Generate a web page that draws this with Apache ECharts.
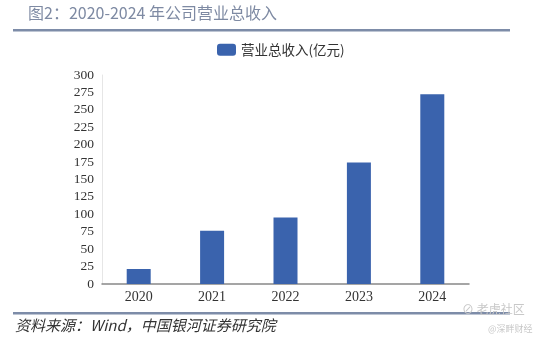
<!DOCTYPE html>
<html><head><meta charset="utf-8">
<script src="https://cdn.jsdelivr.net/npm/echarts@6/dist/echarts.min.js"></script>
<style>html,body{margin:0;padding:0;background:#fff}#c{width:545px;height:343px}</style>
</head><body><div id="c"></div>
<script>
const years = ['2020','2021','2022','2023','2024'];
const revenue = [21.5, 76.5, 95.5, 174.5, 272.5];
const seriesName = '营业总收入(亿元)';
const titleText = '图2：2020-2024 年公司营业总收入';
const sourceText = '资料来源：Wind，中国银河证券研究院';

const chart = echarts.init(document.getElementById('c'), null, {renderer:'canvas'});
chart.setOption({
  animation:false,
  backgroundColor:'#fff',
  legend:{
    data:[seriesName], top:38, left:212, itemWidth:19, itemHeight:12, itemGap:5,
    textStyle:{fontSize:13.5, color:'#333', fontFamily:'"Noto Sans CJK SC", sans-serif'}
  },
  grid:{left:102, right:76, top:75, bottom:59},
  xAxis:{
    type:'category', data:years,
    axisLine:{lineStyle:{color:'#888', width:1.5}},
    axisTick:{show:false},
    axisLabel:{fontSize:14, color:'#333', fontFamily:'"Liberation Serif", serif', margin:6}
  },
  yAxis:{
    type:'value', min:0, max:300, interval:25,
    axisLine:{show:true, lineStyle:{color:'#e6e6e6'}},
    splitLine:{show:false},
    axisLabel:{fontSize:13.5, color:'#333', fontFamily:'"Liberation Serif", serif', margin:8}
  },
  series:[{
    name:seriesName, type:'bar', data:revenue, barWidth:24,
    itemStyle:{color:'#3a63ad'}
  }],
  graphic:[
    {type:'text', left:28, top:5, style:{text:titleText, fontSize:16, fill:'#7e8aa3', fontFamily:'"Noto Sans CJK SC", sans-serif'}},
    {type:'rect', shape:{x:13, y:29, width:497, height:2.5}, style:{fill:'#7d8ca8'}},
    {type:'rect', shape:{x:13, y:312, width:497, height:2.5}, style:{fill:'#7d8ca8'}},
    {type:'text', left:15, top:318, style:{text:sourceText, fontSize:15, fill:'#333', fontStyle:'italic', fontFamily:'"Noto Sans CJK SC", serif'}},
    {type:'text', left:462, top:303, style:{text:'⊘ 老虎社区', fontSize:12, fill:'#c8c8c8', fontFamily:'"Noto Sans CJK SC", sans-serif'}},
    {type:'text', left:488, top:324, style:{text:'@深畔财经', fontSize:9, fill:'#c8c8c8', fontFamily:'"Noto Sans CJK SC", sans-serif'}}
  ]
});
</script></body></html>
